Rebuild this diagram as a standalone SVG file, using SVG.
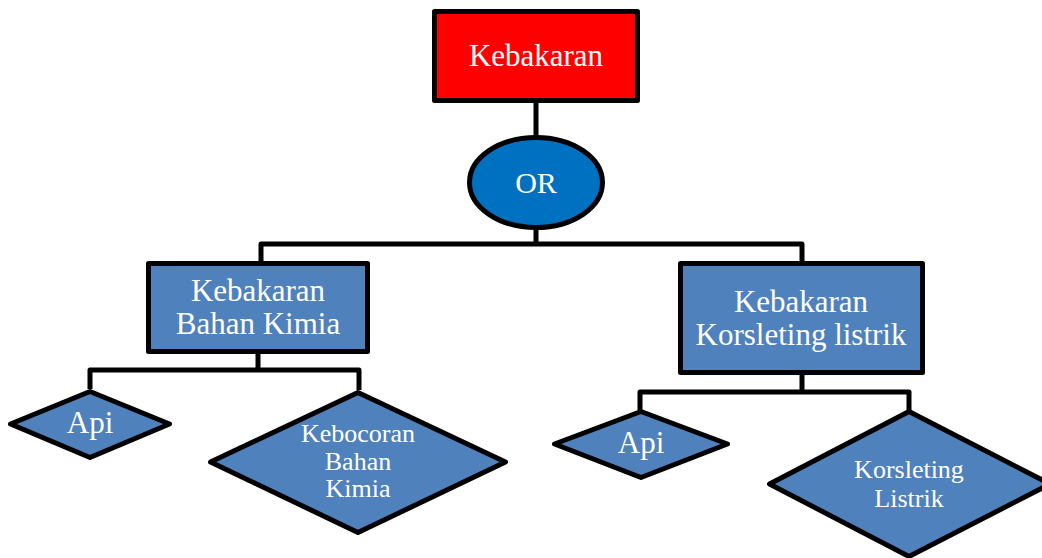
<svg xmlns="http://www.w3.org/2000/svg" width="1042" height="558" viewBox="0 0 1042 558">
  <style>
    .box { stroke: #000; stroke-width: 5; stroke-linejoin: round; }
    .event { fill: #4F81BD; }
    .top { fill: #FF0000; }
    .gate { fill: #0070C0; }
    .wire { fill: none; stroke: #000; stroke-width: 5; stroke-linejoin: round; }
    text { font-family: "Liberation Serif", "Times New Roman", serif; fill: #fff; text-anchor: middle; }
    .big { font-size: 31px; }
    .gate-label { font-size: 30px; }
    .mid { font-size: 31px; }
    .small { font-size: 26px; }
  </style>
  <rect width="1042" height="558" fill="#fff"/>

  <g id="connectors">
    <path class="wire" d="M536 103 V137"/>
    <path class="wire" d="M536 228 V244 M261 262 V244 H802 V262"/>
    <path class="wire" d="M258 354 V370 M90 389 V370 H359 V390"/>
    <path class="wire" d="M802 375 V392 M640 410 V392 H909 V410"/>
  </g>

  <g id="top-event">
    <rect class="box top" x="434.5" y="11.5" width="203" height="89"/>
    <text class="big" x="536" y="66">Kebakaran</text>
  </g>

  <g id="or-gate">
    <ellipse class="box gate" cx="536" cy="182.5" rx="66.5" ry="45"/>
    <text class="gate-label" x="536" y="193">OR</text>
  </g>

  <g id="kebakaran-bahan-kimia">
    <rect class="box event" x="148.5" y="263.5" width="219" height="88"/>
    <text class="big" x="258" y="301">Kebakaran</text>
    <text class="big" x="258" y="334">Bahan Kimia</text>
  </g>

  <g id="kebakaran-korsleting">
    <rect class="box event" x="680.5" y="263.5" width="242" height="109"/>
    <text class="big" x="801" y="312">Kebakaran</text>
    <text class="big" x="801" y="345">Korsleting listrik</text>
  </g>

  <g id="api-kimia">
    <polygon class="box event" points="90,391.5 169.5,424 90,457.5 10.5,424"/>
    <text class="mid" x="90" y="433">Api</text>
  </g>

  <g id="kebocoran">
    <polygon class="box event" points="358,392.5 505.5,462 358,532.5 210.5,462"/>
    <text class="small" x="358" y="442">Kebocoran</text>
    <text class="small" x="358" y="470">Bahan</text>
    <text class="small" x="358" y="497">Kimia</text>
  </g>

  <g id="api-listrik">
    <polygon class="box event" points="641,411.5 727.5,444 641,477.5 554.5,444"/>
    <text class="mid" x="641" y="453">Api</text>
  </g>

  <g id="korsleting-listrik">
    <polygon class="box event" points="909,411.5 1050,484 909,556.5 769.5,484"/>
    <text class="small" x="909" y="478">Korsleting</text>
    <text class="small" x="909" y="507">Listrik</text>
  </g>
</svg>
